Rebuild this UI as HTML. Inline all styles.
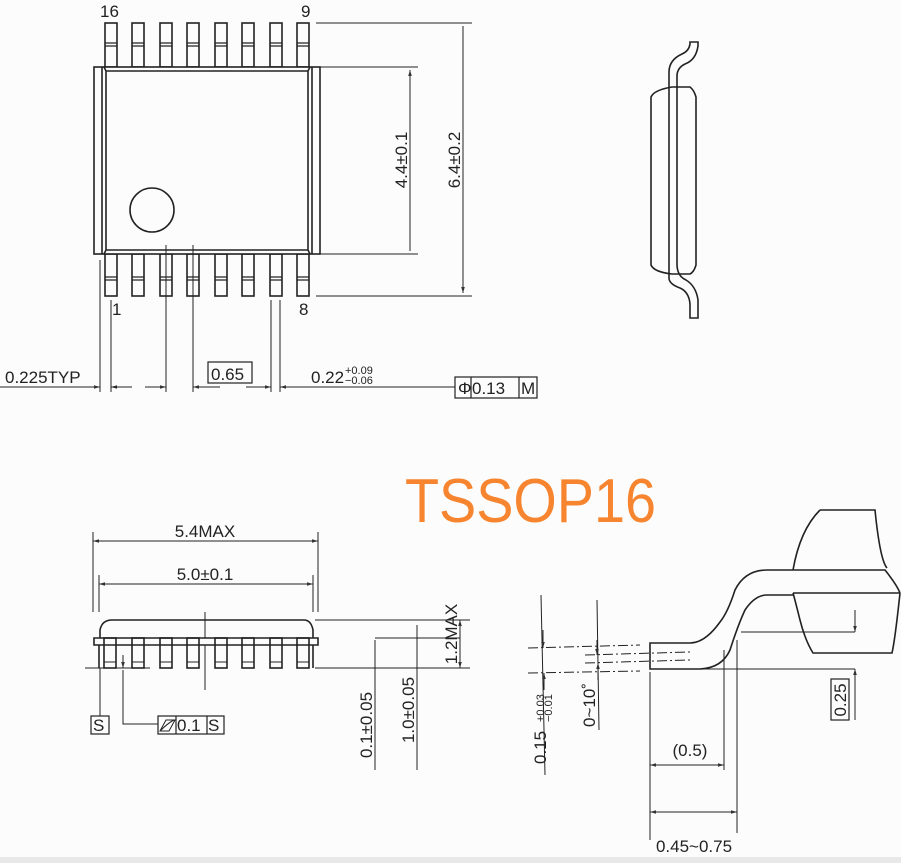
<!DOCTYPE html>
<html><head><meta charset="utf-8"><style>
html,body{margin:0;padding:0;background:#fcfcfc;}
svg{display:block;}
text{font-family:"Liberation Sans",sans-serif;fill:#222;}
</style></head><body>
<svg width="901" height="863" viewBox="0 0 901 863" xmlns="http://www.w3.org/2000/svg">
<defs>
<marker id="a" viewBox="0 0 10 10" refX="10" refY="5" markerWidth="6" markerHeight="6" orient="auto-start-reverse"><path d="M0,2 L10,5 L0,8 z" fill="#333"/></marker>
</defs>
<rect width="901" height="863" fill="#fcfcfc"/>
<rect x="0" y="857" width="901" height="6" fill="#e8e8e8"/>
<g stroke="#222" stroke-width="1.6" fill="none">
<g>
<rect x="105" y="23" width="12" height="44"/><rect x="132" y="23" width="12" height="44"/><rect x="160" y="23" width="12" height="44"/><rect x="187" y="23" width="12" height="44"/><rect x="215" y="23" width="12" height="44"/><rect x="242" y="23" width="12" height="44"/><rect x="270" y="23" width="12" height="44"/><rect x="297" y="23" width="12" height="44"/>
<rect x="105" y="254" width="12" height="42"/><rect x="132" y="254" width="12" height="42"/><rect x="160" y="254" width="12" height="42"/><rect x="187" y="254" width="12" height="42"/><rect x="215" y="254" width="12" height="42"/><rect x="242" y="254" width="12" height="42"/><rect x="270" y="254" width="12" height="42"/><rect x="297" y="254" width="12" height="42"/>
</g>
<path d="M105,43h12M132,43h12M160,43h12M187,43h12M215,43h12M242,43h12M270,43h12M297,43h12M105,46h12M132,46h12M160,46h12M187,46h12M215,46h12M242,46h12M270,46h12M297,46h12" stroke-width="1.2"/>
<path d="M105,277h12M132,277h12M160,277h12M187,277h12M215,277h12M242,277h12M270,277h12M297,277h12M105,280h12M132,280h12M160,280h12M187,280h12M215,280h12M242,280h12M270,280h12M297,280h12" stroke-width="1.2"/>
<rect x="94" y="67" width="226" height="187" fill="#fcfcfc"/>
<path d="M102,67v187M312,67v187"/>
<path d="M104,67 L106,71 H308 L310,67 M104,254 L106,250 H308 L310,254 M106,71 V250 M308,71 V250"/>
<circle cx="152" cy="210" r="22"/>
<g stroke-width="1">
<path d="M316,67H418M316,254H418M316,23H472M316,296H472"/>
<path d="M410,70V251M463,26V293" marker-start="url(#a)" marker-end="url(#a)"/>
<path d="M100,260V392M111,300V392M166,245V392M193,245V392M271,300V392M280,300V392"/>
<path d="M0,387H88M88,387H100" marker-end="url(#a)"/>
<path d="M123,387H111" marker-end="url(#a)"/><path d="M111,387h21"/>
<path d="M145,387H166" marker-end="url(#a)"/>
<path d="M220,387H193" marker-end="url(#a)"/>
<path d="M246,387H271" marker-end="url(#a)"/>
<path d="M292,387H280" marker-end="url(#a)"/>
<path d="M292,387H455"/>
</g>
<rect x="208" y="362" width="44" height="21" stroke-width="1.2"/>
<rect x="455" y="377" width="82" height="21" stroke-width="1.2"/>
<path d="M471,377V398M519,377V398" stroke-width="1.2"/>
<path d="M651,97 Q654,90 672,87 H690 Q694,90 696,97 V265 Q694,272 690,274 H672 Q654,272 651,265 Z"/>
<path d="M669,278 V72 Q669,60 682,54 Q689,51 690,44 V42 H698 V46 Q696,60 685,64 Q677,68 677,76 V264 Q677,276 686,280 Q696,286 698,300 V318 H690 V304 Q689,292 680,288 Q669,284 669,278 Z"/>
<g stroke-width="1">
<path d="M93,532V612M318,532V612M99,575V612M313,575V612"/>
<path d="M93,541H318" marker-start="url(#a)" marker-end="url(#a)"/>
<path d="M99,584H313" marker-start="url(#a)" marker-end="url(#a)"/>
<path d="M315,620H470M315,668H470M85,668H150M375,638H460"/>
<path d="M460,620V668" marker-start="url(#a)" marker-end="url(#a)"/>
<path d="M417,625V770"/>
<path d="M375,640V770"/>
<path d="M205,612V690"/>
<path d="M100,668V716"/>
<path d="M123,670V724H158"/>
<path d="M123,655V668" marker-end="url(#a)"/>
</g>
<path d="M94,638H318V645H94Z" fill="#fcfcfc"/>
<path d="M100,638 V630 Q102,620 112,620 H304 Q311,620 313,630 V638"/>
<g>
<rect x="104" y="638" width="12" height="30"/><rect x="132" y="638" width="12" height="30"/><rect x="160" y="638" width="12" height="30"/><rect x="187" y="638" width="12" height="30"/><rect x="215" y="638" width="12" height="30"/><rect x="242" y="638" width="12" height="30"/><rect x="270" y="638" width="12" height="30"/><rect x="297" y="638" width="12" height="30"/>
</g>
<path d="M104,662h12M132,662h12M160,662h12M187,662h12M215,662h12M242,662h12M270,662h12M297,662h12" stroke-width="1"/>
<path d="M99,645V668M313,645V668"/>
<rect x="91" y="716" width="18" height="18" stroke-width="1.2"/>
<rect x="158" y="716" width="66" height="18" stroke-width="1.2"/>
<path d="M176,716V734M207,716V734" stroke-width="1.2"/>
<path d="M160,731 L166,720 H175 L169,731 Z M160,731 Q168,723 174,720" stroke-width="1"/>
<path d="M820,510 H875 Q880,560 887,568 M793,570 Q800,530 820,510 M793,570 H885 Q897,585 900,593 M793,593 H900 M900,593 Q895,640 892,653 H813 Q805,640 800,620 Q795,600 793,593"/>
<path d="M793,570 H767 Q745,570 735,590 Q728,612 720,622 Q705,643 690,643 H650 V669 H700 Q722,668 730,650 Q738,625 745,610 Q755,595 767,595 H793"/>
<g stroke-width="1">
<path d="M650,672V840M737,640V833M724,650V770"/>
<path d="M650,765H724" marker-start="url(#a)" marker-end="url(#a)"/>
<path d="M650,812H737" marker-start="url(#a)" marker-end="url(#a)"/>
<path d="M741,632H855M700,669H855"/>
<path d="M855,610V632" marker-end="url(#a)"/><path d="M855,720V669" marker-end="url(#a)"/>
<path d="M541,595 L545,775M597,600 L599,730"/>
<path d="M528,648 L640,645M528,673 L640,671M585,655 L690,652M585,663 L690,660" stroke-dasharray="10,3,2,3"/>
<path d="M543,630V648" marker-end="url(#a)"/><path d="M544,690V673" marker-end="url(#a)"/>
<path d="M597,640V655" marker-end="url(#a)"/><path d="M598,680V663" marker-end="url(#a)"/>
</g>
<rect x="831" y="679" width="18" height="41" stroke-width="1.2"/>
</g>
<g font-size="17">
<text x="100" y="17">16</text>
<text x="301" y="17">9</text>
<text x="112" y="315">1</text>
<text x="299" y="315">8</text>
<text x="5" y="383">0.225TYP</text>
<text x="211" y="380">0.65</text>
<text x="311" y="383">0.22</text>
<text x="472" y="394">0.13</text>
<text x="521" y="394">M</text>
<text x="458" y="394">Φ</text>
<text transform="translate(407,160) rotate(-90)" text-anchor="middle">4.4±0.1</text>
<text transform="translate(460,160) rotate(-90)" text-anchor="middle">6.4±0.2</text>
<text x="205" y="537" text-anchor="middle">5.4MAX</text>
<text x="205" y="580" text-anchor="middle">5.0±0.1</text>
<text transform="translate(457,634) rotate(-90)" text-anchor="middle">1.2MAX</text>
<text transform="translate(414,710) rotate(-90)" text-anchor="middle">1.0±0.05</text>
<text transform="translate(372,725) rotate(-90)" text-anchor="middle">0.1±0.05</text>
<text x="93" y="731">S</text>
<text x="177" y="731">0.1</text>
<text x="208" y="731">S</text>
<text x="690" y="756" text-anchor="middle">(0.5)</text>
<text x="694" y="852" text-anchor="middle">0.45~0.75</text>
<text transform="translate(846,700) rotate(-90)" text-anchor="middle">0.25</text>
<text transform="translate(595,705) rotate(-90)" text-anchor="middle">0~10˚</text>
<text transform="translate(546,764) rotate(-90)">0.15</text>
</g>
<g font-size="11">
<text transform="translate(544,722) rotate(-90)">+0.03</text>
<text transform="translate(552,722) rotate(-90)">−0.01</text>
<text x="345" y="374">+0.09</text>
<text x="345" y="384">−0.06</text>
</g>
<text x="405" y="522" font-size="62" textLength="251" lengthAdjust="spacingAndGlyphs" style="fill:#f7842e">TSSOP16</text>
</svg>
</body></html>
